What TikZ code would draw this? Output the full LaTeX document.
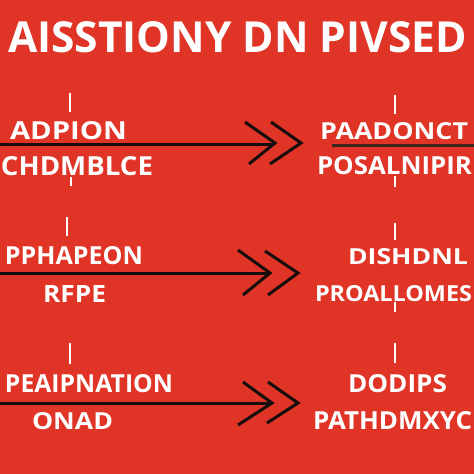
\documentclass[tikz,border=0pt]{standalone}
\usepackage{fontspec}
\setmainfont{Open Sans}
\definecolor{bgred}{RGB}{224,52,38}
\definecolor{inkline}{RGB}{22,14,12}
\definecolor{brownline}{RGB}{60,36,28}
\tikzset{
  lbl/.style={inner sep=0pt, outer sep=0pt, text=white, font=\bfseries, anchor=south west},
  rule/.style={draw=inkline, line width=3pt},
  chev/.style={draw=inkline, line width=3pt, line join=miter},
  tick/.style={draw=white, line width=2.5pt}
}
\newcommand{\fitbox}[3]{\resizebox{#1pt}{#2pt}{#3}}
\begin{document}
\begin{tikzpicture}[x=1pt,y=-1pt]
\useasboundingbox (0,0) rectangle (474,474);
\fill[bgred] (0,0) rectangle (474,474);
\clip (0,0) rectangle (474,474);
% title
\node[lbl] (title) at (8,53) {\fitbox{459}{31}{AISSTIONY DN PIVSED}};
% row 1
\coordinate (t1a) at (70,93); \coordinate (t1b) at (70,112);
\draw[tick] (t1a) -- (t1b);
\node[lbl] (l1a) at (10,140) {\fitbox{117}{18}{ADPION}};
\node[lbl] (l1b) at (1,176) {\fitbox{152}{19}{CHDMBLCE}};
\coordinate (t1c) at (71,177); \coordinate (t1d) at (71,186);
\draw[tick,line width=2pt] (t1c) -- (t1d);
\coordinate (s1) at (0,144); \coordinate (e1) at (273,144);
\draw[rule] (s1) -- (e1);
\coordinate (c1a) at (245,122); \coordinate (c1b) at (275,143); \coordinate (c1c) at (249,164);
\draw[chev] (c1a) -- (c1b) -- (c1c);
\coordinate (c1d) at (271,122); \coordinate (c1e) at (301,143); \coordinate (c1f) at (270,164);
\draw[chev] (c1d) -- (c1e) -- (c1f);
\coordinate (t1e) at (395,95); \coordinate (t1f) at (395,114);
\draw[tick] (t1e) -- (t1f);
\node[lbl] (r1a) at (320,140) {\fitbox{148}{17}{PAADONCT}};
\coordinate (u1a) at (332,145); \coordinate (u1b) at (474,145);
\draw[draw=brownline, line width=3pt] (u1a) -- (u1b);
\node[lbl] (r1b) at (317,175) {\fitbox{155}{18}{POSALNIPIR}};
\coordinate (t1g) at (395,176); \coordinate (t1h) at (395,187);
\draw[tick,line width=2pt] (t1g) -- (t1h);
% row 2
\coordinate (t2a) at (67,217); \coordinate (t2b) at (67,236);
\draw[tick] (t2a) -- (t2b);
\node[lbl] (l2a) at (5,265) {\fitbox{138}{18}{PPHAPEON}};
\node[lbl] (l2b) at (43,302) {\fitbox{63}{17}{RFPE}};
\coordinate (s2) at (0,273); \coordinate (e2) at (270,273);
\draw[rule] (s2) -- (e2);
\coordinate (c2a) at (238,250); \coordinate (c2b) at (270,273); \coordinate (c2c) at (243,295);
\draw[chev] (c2a) -- (c2b) -- (c2c);
\coordinate (c2d) at (265,251); \coordinate (c2e) at (298,273); \coordinate (c2f) at (268,295);
\draw[chev] (c2d) -- (c2e) -- (c2f);
\coordinate (t2e) at (395,223); \coordinate (t2f) at (395,240);
\draw[tick,line width=2pt] (t2e) -- (t2f);
\node[lbl] (r2a) at (348,265) {\fitbox{120}{16}{DISHDNL}};
\node[lbl] (r2b) at (315,302) {\fitbox{157}{16}{PROALLOMES}};
\coordinate (t2g) at (395,302); \coordinate (t2h) at (395,312);
\draw[tick,line width=2pt] (t2g) -- (t2h);
% row 3
\coordinate (t3a) at (70,343); \coordinate (t3b) at (70,364);
\draw[tick] (t3a) -- (t3b);
\node[lbl] (l3a) at (5,393) {\fitbox{168}{18}{PEAIPNATION}};
\node[lbl] (l3b) at (32,430) {\fitbox{81}{17}{ONAD}};
\coordinate (s3) at (0,403); \coordinate (e3) at (272,403);
\draw[rule] (s3) -- (e3);
\coordinate (c3a) at (243,382); \coordinate (c3b) at (272,403); \coordinate (c3c) at (238,425);
\draw[chev] (c3a) -- (c3b) -- (c3c);
\coordinate (c3d) at (268,382); \coordinate (c3e) at (298,403); \coordinate (c3f) at (267,423);
\draw[chev] (c3d) -- (c3e) -- (c3f);
\coordinate (t3e) at (395,343); \coordinate (t3f) at (395,363);
\draw[tick] (t3e) -- (t3f);
\node[lbl] (r3a) at (348,393) {\fitbox{99}{18}{DODIPS}};
\node[lbl] (r3b) at (313,430) {\fitbox{159}{18}{PATHDMXYC}};
\end{tikzpicture}
\end{document}
